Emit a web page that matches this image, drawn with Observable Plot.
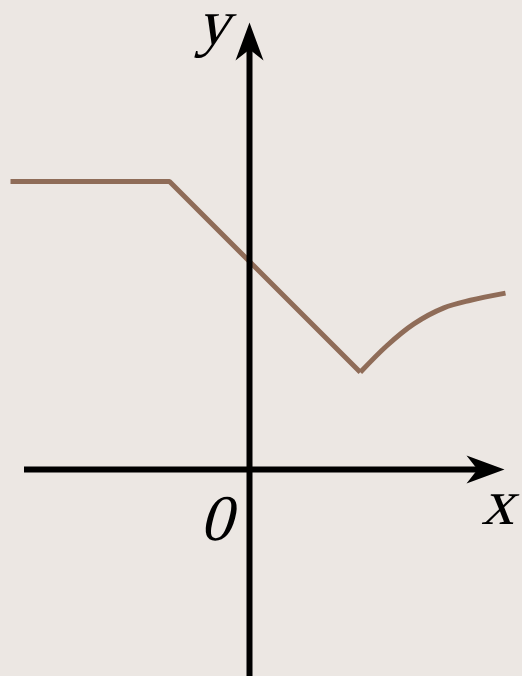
<!DOCTYPE html>
<html>
<head>
<meta charset="utf-8">
<script src="https://cdn.jsdelivr.net/npm/d3@7"></script>
<script src="https://cdn.jsdelivr.net/npm/@observablehq/plot@0.6"></script>
<style>
  html, body { margin: 0; padding: 0; background: #ECE7E3; }
  #chart svg { display: block; }
</style>
</head>
<body>
<div id="chart"></div>
<script>
// Piecewise graph (1 unit = 40px)
const linearX = [-5.975, -2, 2.77];
const linearY = [7.2, 7.2, 2.43];
const curveX = [2.77, 3.44, 4.11, 4.86, 5.525, 6.4];
const curveY = [2.43, 3.1, 3.64, 4.04, 4.23, 4.41];

// Axis extents
const xAxisRange = [-5.625, 5.8];
const yAxisRange = [-5.3, 10.6];
const arrowTips = [
  {x: 0, y: 11.175, rotate: 0},
  {x: 6.375, y: 0, rotate: 90}
];
const labels = [
  {text: "y", x: -0.92, y: 10.65},
  {text: "0", x: -0.85, y: -1.75},
  {text: "x", x: 6.2, y: -1.36}
];

const linearPts = linearX.map((x, i) => ({x, y: linearY[i]}));
const curvePts = curveX.map((x, i) => ({x, y: curveY[i]}));

const arrowSymbol = {
  draw(ctx) {
    ctx.moveTo(0, 0);
    ctx.lineTo(14, 38);
    ctx.lineTo(0, 27);
    ctx.lineTo(-14, 38);
    ctx.closePath();
  }
};

const W = 522, H = 676, ox = 249, oy = 469, u = 40;

const chart = Plot.plot({
  width: W,
  height: H,
  margin: 0,
  style: {background: "#ECE7E3", overflow: "visible"},
  x: {domain: [-ox / u, (W - ox) / u], axis: null},
  y: {domain: [-(H - oy) / u, oy / u], axis: null},
  marks: [
    Plot.line(linearPts, {x: "x", y: "y", stroke: "#8F6C58", strokeWidth: 5, strokeLinecap: "butt", strokeLinejoin: "miter"}),
    Plot.line(curvePts, {x: "x", y: "y", stroke: "#8F6C58", strokeWidth: 5, strokeLinecap: "butt", curve: "catmull-rom"}),
    Plot.ruleY([0], {x1: xAxisRange[0], x2: xAxisRange[1], stroke: "black", strokeWidth: 6}),
    Plot.ruleX([0], {y1: yAxisRange[0], y2: yAxisRange[1], stroke: "black", strokeWidth: 6}),
    Plot.dot(arrowTips, {x: "x", y: "y", rotate: "rotate", symbol: arrowSymbol, fill: "black", stroke: "none", r: 10}),
    Plot.text(labels, {x: "x", y: "y", text: "text", fontFamily: "Liberation Serif", fontStyle: "normal", fontSize: 65, lineAnchor: "bottom", textAnchor: "middle", fill: "black"})
  ]
});
// Synthetic italic (no serif italic face installed): slant each label about its baseline
d3.select(chart).selectAll("text").each(function() {
  const t = this.getAttribute("transform");
  if (t) {
    this.setAttribute("transform", t + " skewX(-15)");
  } else {
    const x = this.getAttribute("x") || 0, y = this.getAttribute("y") || 0;
    this.setAttribute("transform", `translate(${x},${y}) skewX(-15)`);
    this.setAttribute("x", 0); this.setAttribute("y", 0);
  }
});
document.getElementById("chart").appendChild(chart);
</script>
</body>
</html>
